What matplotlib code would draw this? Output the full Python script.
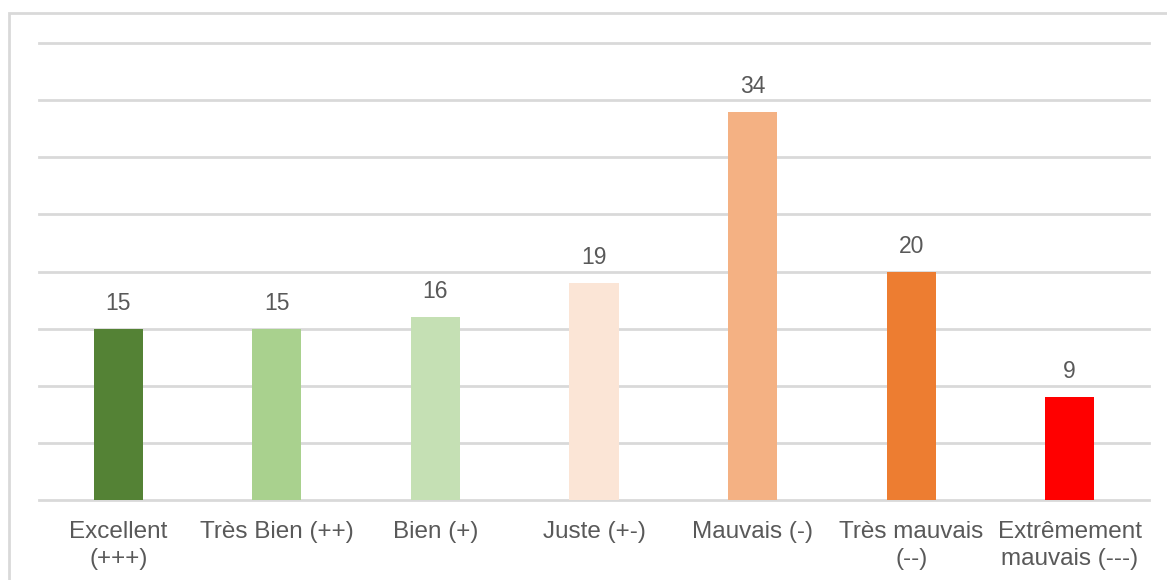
import matplotlib.pyplot as plt
from matplotlib.patches import Rectangle

# Données
categories = ['Excellent\n(+++)', 'Très Bien (++)', 'Bien (+)', 'Juste (+-)',
              'Mauvais (-)', 'Très mauvais\n(--)', 'Extrêmement\nmauvais (---)']
valeurs = [15, 15, 16, 19, 34, 20, 9]
couleurs = ['#548235', '#A9D18E', '#C5E0B4', '#FBE5D6', '#F4B183', '#ED7D31', '#FF0000']

plt.rcParams['font.family'] = ['Liberation Sans', 'DejaVu Sans']

fig = plt.figure(figsize=(11.67, 5.8), dpi=100)
ax = fig.add_axes([39 / 1167, 80 / 580, 1110 / 1167, 457 / 580])

x = range(len(categories))
bars = ax.bar(x, valeurs, width=0.31, color=couleurs, zorder=3)

for b, v in zip(bars, valeurs):
    ax.annotate(str(v), (b.get_x() + b.get_width() / 2, v), xytext=(0, 10),
                textcoords='offset points', ha='center', va='bottom',
                fontsize=16.5, color='#595959')

ax.set_xlim(-0.5, len(categories) - 0.5)
ax.set_ylim(0, 40)
ax.set_yticks(range(0, 41, 5))
ax.yaxis.grid(True, color='#D9D9D9', linewidth=2, zorder=0)
for gl in ax.get_ygridlines():
    gl.set_clip_on(False)
ax.tick_params(axis='y', left=False, labelleft=False)
ax.tick_params(axis='x', length=0, pad=15)
ax.set_xticks(list(x))
ax.set_xticklabels(categories, fontsize=17.5, color='#595959', linespacing=1.3)
for s in ax.spines.values():
    s.set_visible(False)

# cadre gris du graphique
fig.patches.append(Rectangle((9 / 1167, -0.1), 1.2, (580 - 13) / 580 + 0.1,
                             transform=fig.transFigure, fill=False,
                             edgecolor='#D9D9D9', linewidth=2))

fig.savefig('out.png', dpi=100)
